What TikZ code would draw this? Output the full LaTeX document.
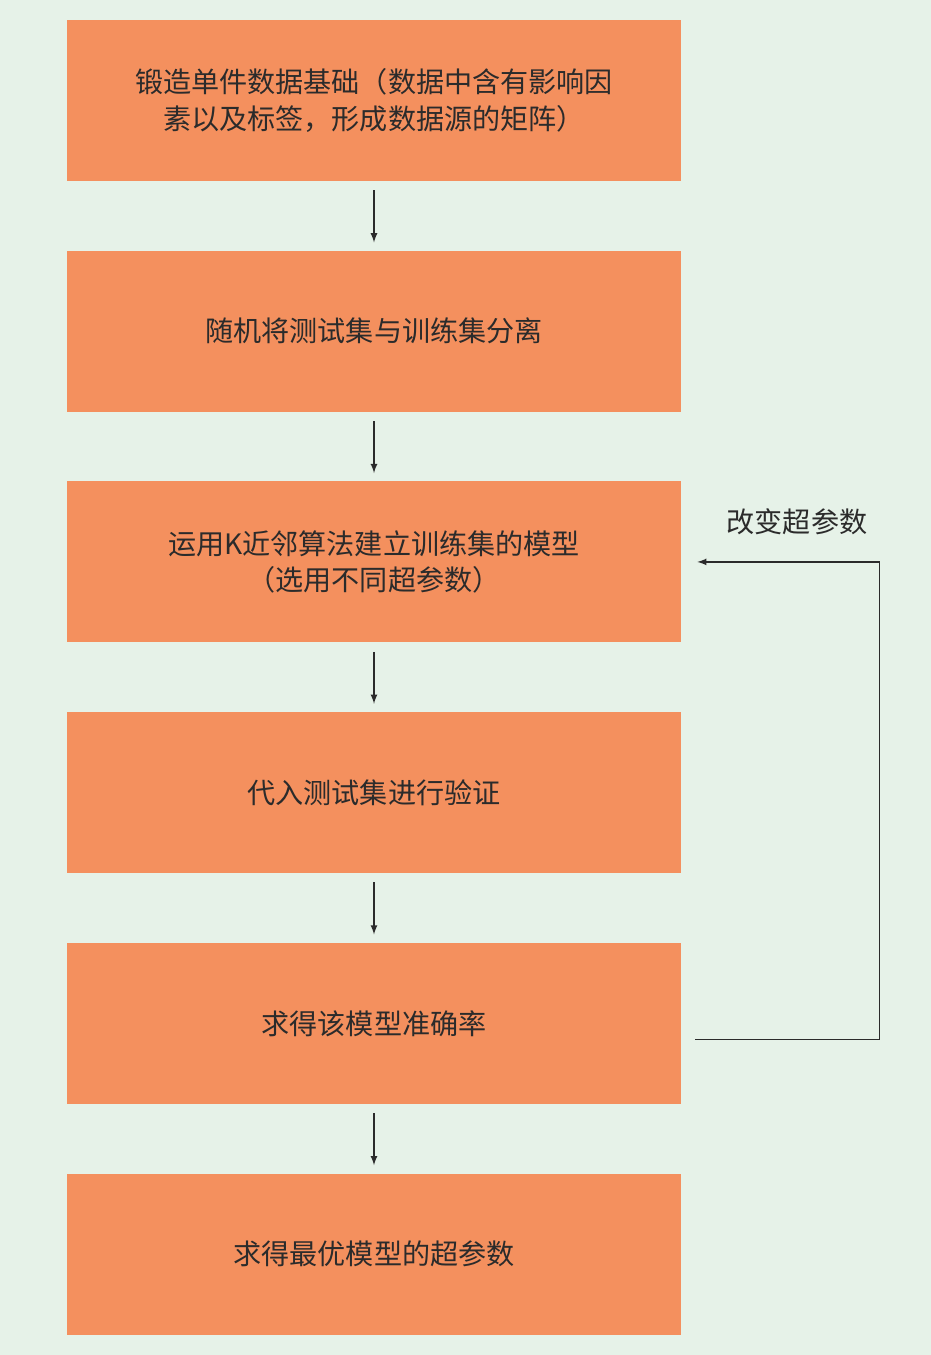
\documentclass[tikz,border=0pt]{standalone}
\usepackage{fontspec}
\setmainfont{Noto Sans CJK SC}
\usetikzlibrary{positioning}
\definecolor{bgcol}{HTML}{E6F2E8}
\definecolor{boxcol}{HTML}{F4905E}
\definecolor{txtcol}{HTML}{2B2B2B}
\tikzset{
  stage/.style={fill=boxcol, minimum width=12.28cm, minimum height=3.22cm, align=center,
    text=txtcol, font=\fontsize{16}{21}\selectfont, inner sep=0pt},
  flow/.style={-latex, thick, txtcol, shorten <=0.18cm, shorten >=0.16cm}
}
\begin{document}
\begin{tikzpicture}[node distance=1.38cm]
        % background
        \fill[bgcol] (0,0) rectangle (18.62,-27.1);
        \useasboundingbox (0,0) rectangle (18.62,-27.1);

        % stages
        \node[stage] (s1) at (7.48,-2.01) {锻造单件数据基础（数据中含有影响因\\素以及标签，形成数据源的矩阵）};
        \node[stage, below=of s1] (s2) {随机将测试集与训练集分离};
        \node[stage, below=of s2] (s3) {运用K近邻算法建立训练集的模型\\（选用不同超参数）};
        \node[stage, below=of s3] (s4) {代入测试集进行验证};
        \node[stage, below=of s4] (s5) {求得该模型准确率};
        \node[stage, below=of s5] (s6) {求得最优模型的超参数};

        % arrows
        \draw[flow] (s1) -- (s2);
        \draw[flow] (s2) -- (s3);
        \draw[flow] (s3) -- (s4);
        \draw[flow] (s4) -- (s5);
        \draw[flow] (s5) -- (s6);

        % feedback
        \coordinate (fb1) at ([xshift=0.28cm, yshift=-0.32cm]s5.east);
        \coordinate (fb2) at ([xshift=0.32cm]s3.east);
        \draw[-latex, thick, txtcol] (fb1) -- ++(3.68,0) |- (fb2);
        \node[text=txtcol, font=\fontsize{16}{21}\selectfont] (lbl) at (15.94,-10.44) {改变超参数};
\end{tikzpicture}
\end{document}
